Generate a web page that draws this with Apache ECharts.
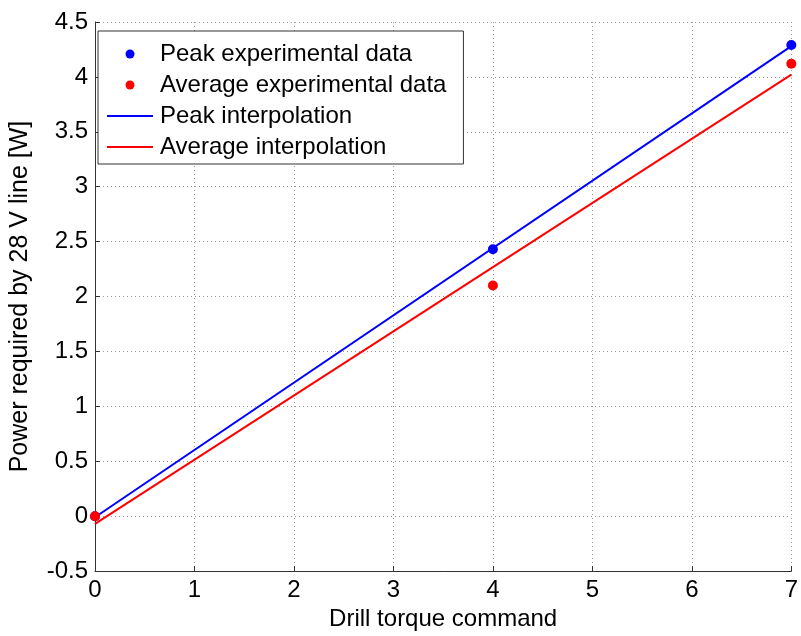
<!DOCTYPE html>
<html>
<head>
<meta charset="utf-8">
<script src="https://cdn.jsdelivr.net/npm/echarts@6/dist/echarts.min.js"></script>
<style>html,body{margin:0;padding:0;background:#fff}#c{width:801px;height:636px}</style>
</head>
<body>
<div id="c"></div>
<script>
// Data
var torqueX = [0, 4, 7];
var peakData = [0, 2.43, 4.29];
var avgData = [0, 2.10, 4.12];
var fitX = [0, 7];
var peakFit = [-0.01, 4.28];
var avgFit = [-0.07, 4.02];
var xTicks = [0, 1, 2, 3, 4, 5, 6, 7];
var yTicks = [-0.5, 0, 0.5, 1, 1.5, 2, 2.5, 3, 3.5, 4, 4.5];
var legendNames = ['Peak experimental data', 'Average experimental data', 'Peak interpolation', 'Average interpolation'];

function pairs(xs, ys) { return xs.map(function (x, i) { return [x, ys[i]]; }); }

var FONT = 'Liberation Sans, Arial, sans-serif';
var LINE_ICON = 'path://M0,0H46V2H0Z';
var chart = echarts.init(document.getElementById('c'), null, {renderer: 'canvas'});
chart.setOption({
  backgroundColor: '#fff',
  animation: false,
  textStyle: {fontFamily: FONT},
  grid: {left: 92, right: 6, top: 22, bottom: 58, containLabel: false},
  xAxis: {
    type: 'value', min: xTicks[0], max: xTicks[xTicks.length - 1], interval: 1,
    name: 'Drill torque command', nameLocation: 'middle', nameGap: 29,
    nameTextStyle: {fontSize: 24, color: '#000', fontFamily: FONT},
    axisLine: {show: true, onZero: false, lineStyle: {color: '#333', width: 1}},
    axisTick: {show: true, inside: true, length: 5, lineStyle: {color: '#333'}},
    axisLabel: {fontSize: 24, color: '#000', margin: 7, fontFamily: FONT},
    splitLine: {show: true, lineStyle: {type: [1, 3], color: '#999', width: 1}}
  },
  yAxis: {
    type: 'value', min: yTicks[0], max: yTicks[yTicks.length - 1], interval: 0.5,
    name: 'Power required by 28 V line [W]', nameLocation: 'middle', nameGap: 62,
    nameTextStyle: {fontSize: 25, color: '#000', fontFamily: FONT},
    axisLine: {show: true, onZero: false, lineStyle: {color: '#333', width: 1}},
    axisTick: {show: true, inside: true, length: 5, lineStyle: {color: '#333'}},
    axisLabel: {fontSize: 24, color: '#000', margin: 7, fontFamily: FONT},
    splitLine: {show: true, lineStyle: {type: [1, 3], color: '#999', width: 1}}
  },
  legend: {
    orient: 'vertical', left: 98, top: 31,
    backgroundColor: '#fff', borderColor: '#333', borderWidth: 1,
    padding: [10, 17, 4, 9],
    itemWidth: 46, itemHeight: 9, itemGap: 5,
    textStyle: {fontSize: 24, color: '#000', lineHeight: 26, fontFamily: FONT, padding: [0, 0, 0, 2]},
    data: [
      {name: legendNames[0]},
      {name: legendNames[1]},
      {name: legendNames[2], icon: LINE_ICON},
      {name: legendNames[3], icon: LINE_ICON}
    ]
  },
  series: [
    {name: legendNames[2], type: 'line', data: pairs(fitX, peakFit), symbol: 'none',
     lineStyle: {color: '#0000ff', width: 2}, itemStyle: {color: '#0000ff'}, z: 2},
    {name: legendNames[3], type: 'line', data: pairs(fitX, avgFit), symbol: 'none',
     lineStyle: {color: '#ff0000', width: 2}, itemStyle: {color: '#ff0000'}, z: 2},
    {name: legendNames[0], type: 'scatter', data: pairs(torqueX, peakData),
     symbol: 'circle', symbolSize: 10, itemStyle: {color: '#0000ff', opacity: 1}, z: 3},
    {name: legendNames[1], type: 'scatter', data: pairs(torqueX, avgData),
     symbol: 'circle', symbolSize: 10, itemStyle: {color: '#ff0000', opacity: 1}, z: 3}
  ]
});
</script>
</body>
</html>
